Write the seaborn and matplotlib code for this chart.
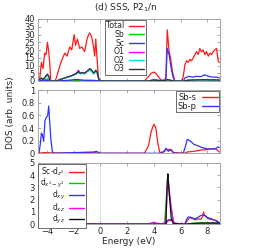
import numpy as np
import pandas as pd
import seaborn as sns
import matplotlib.pyplot as plt

sns.set_theme(style="ticks")
plt.rcParams['font.family'] = ['DejaVu Sans']

# ---- top panel: total and partial DOS ----
tot_E = [-4.7, -4.55, -4.42, -4.3, -4.17, -4.07, -3.97, -3.87, -3.8, -3.72, -3.4, -3.3,
         -3.17, -2.92, -2.67, -2.5, -2.3, -2.15, -1.97, -1.87, -1.72, -1.55, -1.4, -1.18,
         -1.05, -0.93, -0.8, -0.68, -0.55, -0.43, -0.35, -0.25, -0.15, 0.0, 3.3, 3.6,
         3.8, 4.0, 4.2, 4.4, 4.6, 4.8, 4.9, 5.0, 5.14, 5.25, 5.39, 5.57, 6.1, 6.2,
         6.32, 6.45, 6.57, 6.7, 6.82, 6.95, 7.07, 7.2, 7.32, 7.44, 7.57, 7.69, 7.82,
         7.94, 8.07, 8.19, 8.32, 8.44, 8.56, 8.69, 8.81, 8.9]
tot_v = [0, 1, 12, 8, 18, 17, 25, 19, 12, 0, 0, 2,
         6, 13, 18, 16, 22, 20, 30, 23, 27, 21, 22, 19,
         25, 29, 31, 29, 24, 16, 27, 14, 2, 0, 0, 3,
         5, 5.8, 4.5, 2, 0.3, 0.2, 3, 33, 19, 15, 6, 0, 0, 3,
         10.5, 13, 12, 14, 13, 15, 17, 19, 17, 21, 19, 20, 17,
         19, 16, 18, 17, 19, 20, 21, 13, 12]

sb_E = [-4.7, -4.4, -4.0, -3.7, -3.4, -2.5, -1.5, -0.5, 0.0, 3.5, 4.0, 4.5, 4.9, 5.1, 5.5,
        6.2, 6.5, 7.0, 7.5, 8.0, 8.5, 8.9]
sb_v = [0, 0.6, 1.3, 0.2, 0, 0.3, 0.3, 0.3, 0, 0, 0.5, 0.1, 0.3, 0.4, 0,
        0, 0.5, 0.6, 0.7, 0.7, 0.7, 0.6]

sc_E = [-4.7, -4.4, -4.2, -3.8, -3.4, -2.5, -1.8, -1.2, -0.5, 0.0, 3.5, 4.0, 4.5, 4.9,
        5.0, 5.14, 5.3, 5.45, 5.57, 6.2, 6.32, 6.6, 6.9, 7.2, 7.5, 7.8, 8.1, 8.4, 8.7, 8.9]
sc_v = [0, 0.3, 0.5, 0.2, 0, 0.4, 1.0, 0.5, 0.4, 0, 0, 0.8, 0.2, 0.5,
        21, 17, 8, 2, 0, 0, 2, 3, 2.5, 3, 2.8, 4, 3, 2.5, 2.5, 2]

o1_E = [-4.7, -4.42, -4.3, -4.1, -3.97, -3.87, -3.75, -3.3, -3.0, -2.67, -2.3, -2.0,
        -1.8, -1.65, -1.5, -1.35, -1.2, -1.05, -0.8, -0.65, -0.5, -0.35, -0.25, -0.12,
        0.0, 3.6, 4.0, 4.4, 4.9, 5.0, 5.2, 5.5, 6.2, 6.6, 7.2, 7.8, 8.4, 8.9]
o1_v = [0, 1.5, 1, 2.5, 4, 2.5, 0, 0, 1, 2, 3, 4,
        5, 7, 5, 5, 5, 6, 7.5, 6.5, 5, 6.5, 5.5, 1,
        0, 0, 0.6, 0.3, 0.4, 0.8, 0.5, 0, 0, 0.5, 0.6, 0.7, 0.6, 0.5]

o2_E = [-4.7, -4.42, -4.3, -4.1, -3.97, -3.87, -3.75, -3.3, -3.0, -2.67, -2.3, -2.0,
        -1.8, -1.65, -1.5, -1.35, -1.2, -1.05, -0.8, -0.65, -0.5, -0.35, -0.25, -0.12,
        0.0, 3.6, 4.0, 4.4, 4.9, 5.0, 5.2, 5.5, 6.2, 6.6, 7.2, 7.8, 8.4, 8.9]
o2_v = [0, 1.5, 1, 2.5, 4, 2.5, 0, 0, 1, 1.8, 2.8, 3.8,
        4.5, 5.5, 4.5, 5, 4.5, 5.5, 7, 6, 4.5, 6, 5, 1,
        0, 0, 0.6, 0.3, 0.4, 0.8, 0.5, 0, 0, 0.5, 0.6, 0.6, 0.6, 0.5]

o3_E = [-4.7, -4.42, -4.3, -4.1, -3.97, -3.87, -3.75, -3.3, -3.0, -2.67, -2.3, -2.0,
        -1.8, -1.65, -1.5, -1.35, -1.2, -1.05, -0.8, -0.65, -0.5, -0.35, -0.25, -0.12,
        0.0, 3.6, 4.0, 4.4, 4.9, 5.0, 5.2, 5.5, 6.2, 6.6, 7.2, 7.8, 8.4, 8.9]
o3_v = [0, 2, 1, 3, 4.5, 3, 0, 0, 1, 2, 3, 4,
        5, 6, 5, 5.5, 5, 6, 8, 7, 5, 7, 6, 1,
        0, 0, 0.6, 0.3, 0.4, 1, 0.5, 0, 0, 0.5, 0.7, 0.8, 0.7, 0.6]

# ---- middle panel: Sb s / p ----
sbs_E = [-4.7, -4.2, -3.5, -2.0, -0.5, 0.0, 3.3, 3.6, 3.8, 4.0, 4.15, 4.3, 4.45,
         4.7, 4.85, 5.1, 5.3, 5.45, 6.3, 6.5, 7.0, 7.5, 8.0, 8.3, 8.6, 8.8, 8.9]
sbs_v = [0, 0.01, 0.005, 0.005, 0.01, 0, 0, 0.12, 0.35, 0.46, 0.4, 0.15, 0.01,
         0.02, 0.06, 0.06, 0.06, 0.01, 0, 0.02, 0.03, 0.05, 0.06, 0.07, 0.07, 0.04, 0.02]

sbp_E = [-4.7, -4.6, -4.5, -4.42, -4.35, -4.25, -4.15, -4.05, -3.95, -3.87, -3.8, -3.7,
         -3.6, -3.5, -2.0, -0.5, -0.3, 0.0, 4.5, 4.8, 4.9, 5.0, 5.1, 5.2, 5.35, 5.5,
         6.2, 6.35, 6.5, 6.6, 6.8, 7.0, 7.3, 7.6, 8.0, 8.3, 8.6, 8.8, 8.9]
sbp_v = [0, 0, 0.15, 0.32, 0.3, 0.19, 0.52, 0.57, 0.6, 0.75, 0.5, 0.2,
         0.03, 0, 0.01, 0.02, 0.03, 0, 0, 0.03, 0.08, 0.05, 0.03, 0.05, 0.04, 0,
         0, 0.1, 0.22, 0.21, 0.18, 0.14, 0.12, 0.09, 0.07, 0.07, 0.07, 0.1, 0.09]

# ---- bottom panel: Sc d orbitals ----
dz2_E = [-4.7, -4.1, -3.5, -2.0, -1.0, 0.0, 4.9, 5.0, 5.2, 5.4, 5.5, 6.3, 6.5, 6.7,
         6.9, 7.1, 7.3, 7.5, 7.65, 7.72, 7.8, 8.0, 8.2, 8.5, 8.7, 8.9]
dz2_v = [0, 0.05, 0.01, 0.05, 0.02, 0, 0, 0.25, 0.3, 0.3, 0, 0, 0.3, 0.55,
         0.45, 0.35, 0.45, 0.4, 0.6, 1.0, 0.7, 0.5, 0.4, 0.35, 0.3, 0.1]

dx2_E = [-4.7, 0.0, 4.8, 4.95, 5.05, 5.2, 5.4, 5.5, 6.3, 7.0, 8.0, 8.9]
dx2_v = [0, 0, 0, 2.5, 3.6, 2.0, 0.6, 0.1, 0, 0.1, 0.1, 0.1]

dxy_E = [-4.7, -4.2, -4.05, -3.9, -2.1, -1.95, -1.8, 0.0, 4.9, 5.0, 5.15, 5.35, 5.5,
         5.55, 6.3, 6.5, 6.6, 6.8, 7.0, 7.2, 7.5, 7.7, 7.85, 8.0, 8.3, 8.6, 8.8, 8.9]
dxy_v = [0, 0, 0.15, 0.05, 0.05, 0.15, 0.05, 0, 0, 0.3, 0.38, 0.35, 0.1,
         0, 0, 0.5, 0.6, 0.55, 0.45, 0.5, 0.7, 0.75, 0.7, 0.55, 0.45, 0.3, 0.2, 0.1]

dxz_E = [-4.7, 0.0, 3.5, 3.8, 4.0, 4.3, 4.6, 4.9, 5.0, 5.1, 5.25, 5.4, 5.5, 6.3, 7.5, 8.9]
dxz_v = [0, 0, 0, 0.1, 0.15, 0.08, 0.02, 0.2, 3.0, 3.3, 1.8, 0.6, 0.1, 0, 0.05, 0.05]

dyz_E = [-4.7, 0.0, 4.9, 5.0, 5.05, 5.15, 5.3, 5.45, 6.3, 7.5, 8.9]
dyz_v = [0, 0, 0, 3.5, 4.1, 2.5, 0.5, 0.05, 0, 0.1, 0.1]

top_series = [("Total", tot_E, tot_v, "#ff1a1a"), ("Sb", sb_E, sb_v, "#00cc00"),
              ("Sc", sc_E, sc_v, "#3333ff"), ("O1", o1_E, o1_v, "#ff00ff"),
              ("O2", o2_E, o2_v, "#00e5e5"), ("O3", o3_E, o3_v, "#333333")]
mid_series = [("Sb-s", sbs_E, sbs_v, "#ff1a1a"), ("Sb-p", sbp_E, sbp_v, "#3333ff")]
bot_series = [("Sc-d$_{z^2}$", dz2_E, dz2_v, "#ff1a1a"),
              ("d$_{x^2-y^2}$", dx2_E, dx2_v, "#00cc00"),
              ("d$_{xy}$", dxy_E, dxy_v, "#3333ff"),
              ("d$_{xz}$", dxz_E, dxz_v, "#ff00ff"),
              ("d$_{yz}$", dyz_E, dyz_v, "#111111")]

fig = plt.figure(figsize=(2.67, 2.5), dpi=100)
ax1 = fig.add_axes([0.141, 0.676, 0.683, 0.248])
ax2 = fig.add_axes([0.141, 0.387, 0.683, 0.252])
ax3 = fig.add_axes([0.141, 0.103, 0.683, 0.246])


def draw(ax, series, lw=0.9):
    for name, E, v, c in series:
        df = pd.DataFrame({"E": E, "v": v})
        sns.lineplot(data=df, x="E", y="v", ax=ax, color=c, lw=lw,
                     label=name, estimator=None)
    ax.axvline(0, color="#aaaaaa", lw=0.6, ls=":", zorder=0)
    ax.set_xlim(-4.7, 8.95)
    ax.set_xticks([-4, -2, 0, 2, 4, 6, 8])
    ax.set_xlabel("")
    ax.set_ylabel("")
    ax.tick_params(direction="in", top=True, right=True, labelsize=6,
                   length=2.5, width=0.5, color="#888888", pad=2)
    for s in ax.spines.values():
        s.set_color("#999999")
        s.set_linewidth(0.6)


draw(ax1, top_series)
draw(ax2, mid_series)
draw(ax3, bot_series)

ax1.set_ylim(0, 40)
ax1.set_yticks(range(0, 41, 5))
ax2.set_ylim(0, 1)
ax2.set_yticks([0, 0.2, 0.4, 0.6, 0.8, 1])
ax2.set_yticklabels(["0", "0.2", "0.4", "0.6", "0.8", "1"])
ax3.set_ylim(0, 5)
ax3.set_yticks(range(0, 6))
ax1.tick_params(labelbottom=False)
ax2.tick_params(labelbottom=False)

leg_kw = dict(markerfirst=False, fancybox=False, edgecolor="#555555",
              framealpha=1, handlelength=1.9, borderpad=0.2,
              handletextpad=0.6, borderaxespad=0.1, handleheight=0.5)
l1 = ax1.legend(loc="upper center", bbox_to_anchor=(0.48, 1.0), fontsize=5.6,
                labelspacing=-0.05, **leg_kw)
l2 = ax2.legend(loc="upper right", fontsize=6, labelspacing=0.0, **leg_kw)
l3 = ax3.legend(loc="upper left", fontsize=5.5, labelspacing=-0.1, **leg_kw)
for l in (l1, l2, l3):
    l.get_frame().set_linewidth(0.6)
    for h in l.get_lines():
        h.set_linewidth(1.0)

ax3.set_xlabel("Energy (eV)", fontsize=6.5, labelpad=1)
fig.text(0.04, 0.55, "DOS (arb. units)", rotation=90, fontsize=6.5,
         ha="center", va="center")
fig.text(0.472, 0.971, "(d) SSS, P2$_1$/n", fontsize=6.5, ha="center", va="center")

fig.savefig("out.png", dpi=100)
